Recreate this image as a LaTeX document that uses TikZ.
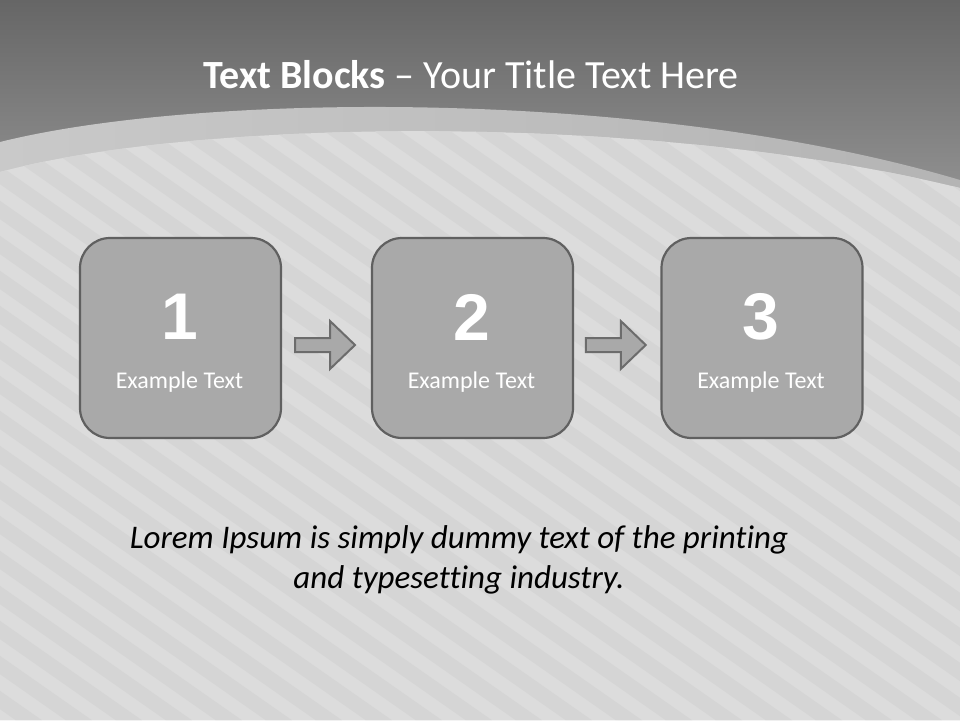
\documentclass[tikz,border=0pt]{standalone}
\usepackage{fontspec}
\setmainfont[Ligatures={NoCommon}]{Carlito}
\newfontfamily\numfont{Liberation Sans}
\usetikzlibrary{calc}
\definecolor{topdark}{HTML}{666666}
\definecolor{topmid}{HTML}{929292}
\definecolor{bandl}{HTML}{C9C9C9}
\definecolor{bandr}{HTML}{B4B4B4}
\definecolor{bgl}{HTML}{DCDCDC}
\definecolor{stripe}{HTML}{D5D5D5}
\definecolor{boxfill}{HTML}{A9A9A9}
\definecolor{boxline}{HTML}{606060}
\definecolor{arrline}{HTML}{6C6C6C}
\tikzset{
  stepbox/.style={draw=boxline, fill=boxfill, line width=2.2pt, rounded corners=30pt,
    minimum width=201pt, minimum height=200pt, inner sep=0pt},
  numtext/.style={text=white, font=\numfont\bfseries\fontsize{66}{66}\selectfont, inner sep=0pt},
  captext/.style={text=white, font=\fontsize{24}{28}\selectfont, inner sep=0pt},
  arr/.style={draw=arrline, fill=boxfill, line width=2pt, line join=miter},
  stripeline/.style={draw=stripe, line width=15pt}
}
\begin{document}
\begin{tikzpicture}[x=1pt,y=-1pt]
\useasboundingbox (0,0) rectangle (960,720);
% top background
\shade[top color=topdark, bottom color=topmid] (0,0) rectangle (960,200);
% band
\shade[left color=bandl, right color=bandr]
  (0,142) .. controls (200,92) and (650,88) .. (960,180) -- (960,720) -- (0,720) -- cycle;
% light body
\fill[bgl] (0,172) .. controls (200,118) and (650,112) .. (960,188) -- (960,720) -- (0,720) -- cycle;
\begin{scope}
  \clip (0,172) .. controls (200,118) and (650,112) .. (960,188) -- (960,720) -- (0,720) -- cycle;
  \foreach \k in {-1100,-1050,...,1000}
    \draw[stripeline] (\k,0) -- ++(1100,770);
\end{scope}
% title
\node[text=white, font=\fontsize{40}{46}\selectfont, inner sep=0pt] (title) at (471,75)
  {\textbf{Text Blocks} – Your Title Text Here};
% boxes
\node[stepbox] (b1) at (180.5,338) {};
\node[stepbox] (b2) at (472.5,338) {};
\node[stepbox] (b3) at (762,338) {};
\foreach \b/\n in {b1/1,b2/2,b3/3}{
  \node[numtext] (n\b) at ($(\b.center)+(-1,-21)$) {\n};
  \node[captext] (c\b) at ($(\b.center)+(-1,44)$) {Example Text};
}
% arrows
\coordinate (a1) at ($(b1.east)!0.5!(b2.west)+(-1,7)$);
\coordinate (a2) at ($(b2.east)!0.5!(b3.west)+(-1,7)$);
\foreach \a in {a1,a2}
  \draw[arr] ($(\a)+(-30.5,-7)$) -- ++(35,0) -- ++(0,-17) -- ++(25,24) -- ++(-25,24)
    -- ++(0,-17) -- ++(-35,0) -- cycle;
% body text
\node[text=black, font=\itshape\fontsize{33}{40}\selectfont, align=center, inner sep=0pt] (lorem) at (459,560)
  {Lorem Ipsum is simply dummy text of the printing\\and typesetting industry.};
\end{tikzpicture}
\end{document}
